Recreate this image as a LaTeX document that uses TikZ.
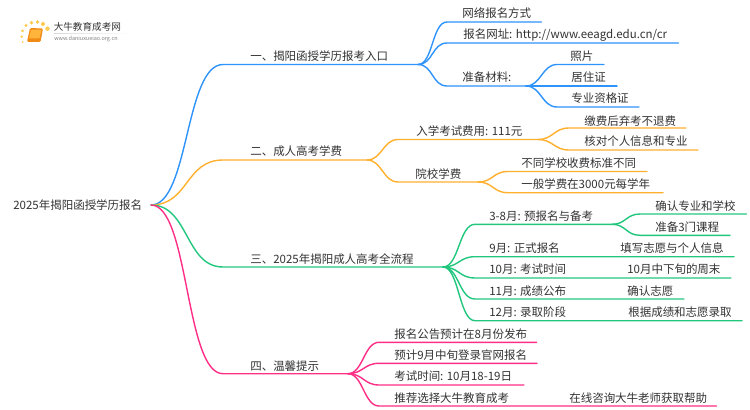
\documentclass[tikz,border=0pt]{standalone}
\usepackage{fontspec}
\setmainfont{Noto Sans CJK SC}
\definecolor{cb}{HTML}{2E93FA}
\definecolor{co}{HTML}{FFB02E}
\definecolor{cg}{HTML}{22C77E}
\definecolor{cp}{HTML}{FF2E86}
\definecolor{tx}{HTML}{333333}
\definecolor{bk}{HTML}{F08A14}
\definecolor{bl}{HTML}{FFB53C}
\definecolor{dt}{HTML}{FFC94D}
\tikzset{
 lbl/.style={anchor=base west,inner sep=0pt,text=tx,font=\fontsize{8.62pt}{10pt}\selectfont},
 wire/.style={line width=1.05pt,line cap=round},
 lnk/.style={wire,draw=#1},
}
% \brn{colour}{from}{curve start of underline}{to}{bend}
\newcommand{\brn}[5]{\draw[lnk=#1] (#2) .. controls +(#5,0) and +(-#5,0) .. (#3) -- (#4);}
\begin{document}
\begin{tikzpicture}[x=0.75pt,y=-0.75pt]
\useasboundingbox (0,0) rectangle (750,410);
\fill[white] (0,0) rectangle (750,410);
% logo
\foreach \px/\py/\pr in {22.5/31/1.5,26/25.5/1.6,31.5/22.7/1.9,37.5/22/1.9,43/24/2,47.5/28.7/2.2,21.7/36.7/1.3,22.7/42/1}
  \fill[dt] (\px,\py) circle (\pr);
\fill[rounded corners=1pt,bk] (30,28) -- (43,28.5) -- (40.5,42) -- (27,42) -- cycle;
\fill[rounded corners=.6pt,bl] (31,29.5) -- (41.5,29.8) -- (39.5,38.5) -- (29,38.5) -- cycle;
\shade[left color=gray!30,right color=white] (54,33.4) rectangle (132,33.9);
\node[lbl,font=\fontsize{7.2pt}{9pt}\selectfont] (logoa) at (53.5,31) {大牛教育成考网};
\node[lbl,font=\fontsize{4.1pt}{5pt}\selectfont,text=gray] (logob) at (54,41) {www.daniuxueiao.org.cn};
% coordinates
\coordinate (r) at (151,205);
\coordinate (a0) at (223,64.5); \coordinate (a) at (418,64.5);
\coordinate (a1s) at (447,22); \coordinate (a1) at (541.5,22);
\coordinate (a2s) at (447,43); \coordinate (a2) at (678.5,43);
\coordinate (a3s) at (447,86); \coordinate (a3) at (526,86);
\coordinate (a31s) at (557,64.5); \coordinate (a31) at (604,64.5);
\coordinate (a32s) at (557,86); \coordinate (a32) at (617,86);
\coordinate (a33s) at (557,107); \coordinate (a33) at (639,107);
\coordinate (b0) at (223,160); \coordinate (b) at (367,160);
\coordinate (b1s) at (398,139.5); \coordinate (b1) at (538,139.5);
\coordinate (b2s) at (398,182); \coordinate (b2) at (478,182);
\coordinate (b11s) at (569,128); \coordinate (b11) at (686,128);
\coordinate (b12s) at (569,150); \coordinate (b12) at (698,150);
\coordinate (b21s) at (508,171.5); \coordinate (b21) at (647,171.5);
\coordinate (b22s) at (508,192.7); \coordinate (b22) at (663,192.7);
\coordinate (c0) at (223,267); \coordinate (c) at (443,267);
\coordinate (c1s) at (475,224.3); \coordinate (c1) at (612,224.3);
\coordinate (c11s) at (640,214); \coordinate (c11) at (746.5,214);
\coordinate (c12s) at (640,235.3); \coordinate (c12) at (730,235.3);
\coordinate (c2s) at (475,256.7); \coordinate (c2) at (734,256.7);
\coordinate (c3s) at (475,278); \coordinate (c3) at (731,278);
\coordinate (c4s) at (475,299); \coordinate (c4) at (684,299);
\coordinate (c5s) at (475,320.7); \coordinate (c5) at (742,320.7);
\coordinate (d0) at (223,373.7); \coordinate (d) at (348,373.7);
\coordinate (d1s) at (379,342.3); \coordinate (d1) at (536.5,342.3);
\coordinate (d2s) at (379,363.3); \coordinate (d2) at (537,363.3);
\coordinate (d3s) at (379,385); \coordinate (d3) at (524,385);
\coordinate (d4s) at (379,406); \coordinate (d4) at (716.5,406);
% connectors
\brn{cb}{r}{a0}{a}{38}
\brn{co}{r}{b0}{b}{38}
\brn{cg}{r}{c0}{c}{38}
\brn{cp}{r}{d0}{d}{38}
\brn{cb}{a}{a1s}{a1}{15}
\brn{cb}{a}{a2s}{a2}{15}
\brn{cb}{a}{a3s}{a3}{15}
\brn{cb}{a3}{a31s}{a31}{15}
\brn{cb}{a3}{a32s}{a32}{15}
\brn{cb}{a3}{a33s}{a33}{15}
\brn{co}{b}{b1s}{b1}{15}
\brn{co}{b}{b2s}{b2}{15}
\brn{co}{b1}{b11s}{b11}{15}
\brn{co}{b1}{b12s}{b12}{15}
\brn{co}{b2}{b21s}{b21}{15}
\brn{co}{b2}{b22s}{b22}{15}
\brn{cg}{c}{c1s}{c1}{16}
\brn{cg}{c}{c2s}{c2}{16}
\brn{cg}{c}{c3s}{c3}{16}
\brn{cg}{c}{c4s}{c4}{16}
\brn{cg}{c}{c5s}{c5}{16}
\brn{cg}{c1}{c11s}{c11}{14}
\brn{cg}{c1}{c12s}{c12}{14}
\brn{cp}{d}{d1s}{d1}{15}
\brn{cp}{d}{d2s}{d2}{15}
\brn{cp}{d}{d3s}{d3}{15}
\brn{cp}{d}{d4s}{d4}{15}
% labels
\node[lbl] (tr) at (13,209.5) {2025年揭阳函授学历报名};
\node[lbl] (ta) at (250,61) {一、揭阳函授学历报考入口};
\node[lbl] (ta1) at (462,18) {网络报名方式};
\node[lbl] (ta2) at (463,39) {报名网址: http://www.eeagd.edu.cn/cr};
\node[lbl] (ta3) at (462,82) {准备材料:};
\node[lbl] (ta31) at (570,61) {照片};
\node[lbl] (ta32) at (571,82) {居住证};
\node[lbl] (ta33) at (571,103) {专业资格证};
\node[lbl] (tb) at (250,156) {二、成人高考学费};
\node[lbl] (tb1) at (416,135.5) {入学考试费用: 111元};
\node[lbl] (tb11) at (584,125) {缴费后弃考不退费};
\node[lbl] (tb12) at (584,146) {核对个人信息和专业};
\node[lbl] (tb2) at (415,178) {院校学费};
\node[lbl] (tb21) at (521,167) {不同学校收费标准不同};
\node[lbl] (tb22) at (521,188.5) {一般学费在3000元每学年};
\node[lbl] (tc) at (250,263) {三、2025年揭阳成人高考全流程};
\node[lbl] (tc1) at (489,220) {3-8月: 预报名与备考};
\node[lbl] (tc11) at (655,210) {确认专业和学校};
\node[lbl] (tc12) at (655,231) {准备3门课程};
\node[lbl] (tc2) at (489,252.5) {9月: 正式报名};
\node[lbl] (tc2b) at (620,252.5) {填写志愿与个人信息};
\node[lbl] (tc3) at (489,273.5) {10月: 考试时间};
\node[lbl] (tc3b) at (627,273.5) {10月中下旬的周末};
\node[lbl] (tc4) at (489,295) {11月: 成绩公布};
\node[lbl] (tc4b) at (627,295) {确认志愿};
\node[lbl] (tc5) at (489,316.5) {12月: 录取阶段};
\node[lbl] (tc5b) at (628,316.5) {根据成绩和志愿录取};
\node[lbl] (td) at (250,370) {四、温馨提示};
\node[lbl] (td1) at (394,338) {报名公告预计在8月份发布};
\node[lbl] (td2) at (394,359.5) {预计9月中旬登录官网报名};
\node[lbl] (td3) at (394,380.5) {考试时间: 10月18-19日};
\node[lbl] (td4) at (394,402) {推荐选择大牛教育成考};
\node[lbl] (td4b) at (569,402) {在线咨询大牛老师获取帮助};
\end{tikzpicture}
\end{document}
